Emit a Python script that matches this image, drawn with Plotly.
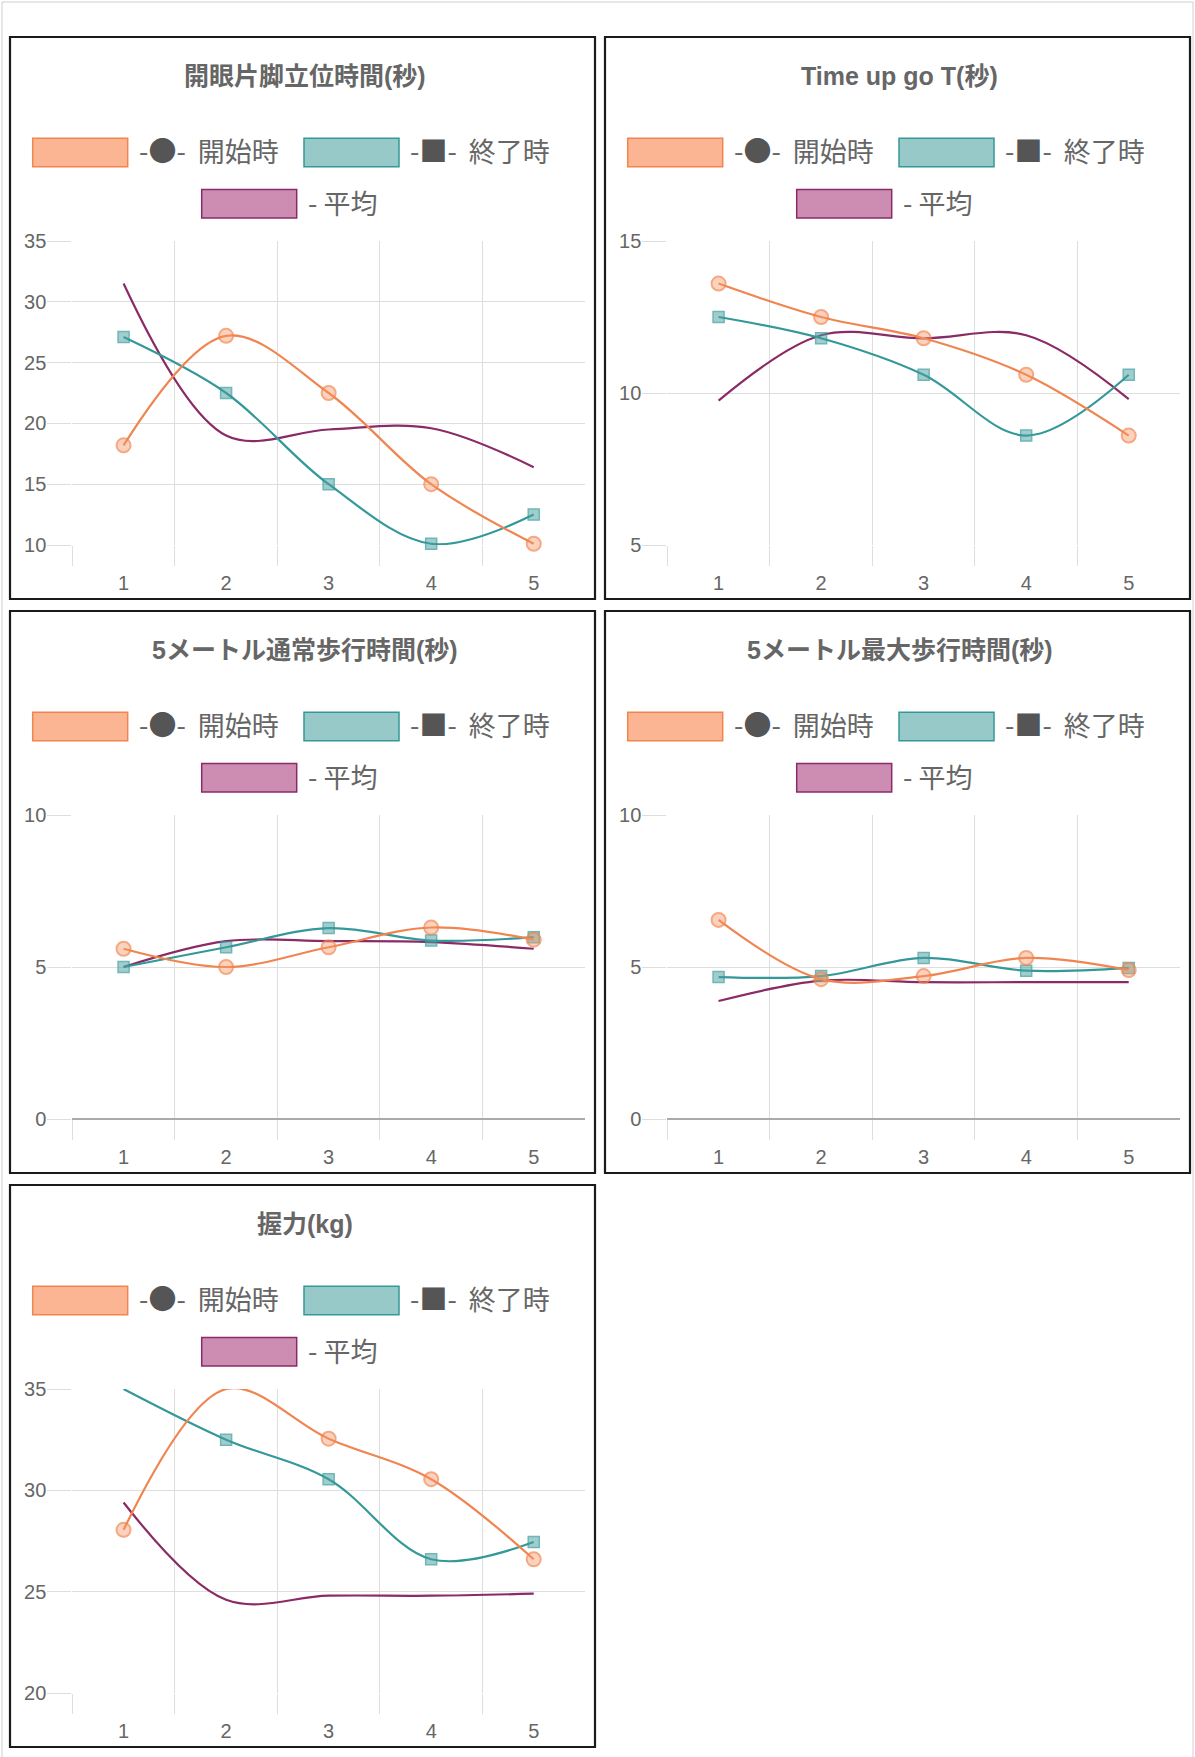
import plotly.graph_objects as go

# ---------------- data ----------------
x_labels = [1, 2, 3, 4, 5]
titles = ["開眼片脚立位時間(秒)", "Time up go T(秒)", "5メートル通常歩行時間(秒)",
          "5メートル最大歩行時間(秒)", "握力(kg)"]
series_names = ["開始時", "終了時", "平均"]

start_vals_1 = [18.2, 27.2, 22.5, 15.0, 10.1]
start_vals_2 = [13.6, 12.5, 11.8, 10.6, 8.6]
start_vals_3 = [5.6, 5.0, 5.65, 6.3, 5.9]
start_vals_4 = [6.55, 4.6, 4.7, 5.3, 4.9]
start_vals_5 = [28.05, 35.0, 32.55, 30.55, 26.6]

end_vals_1 = [27.1, 22.5, 15.0, 10.1, 12.5]
end_vals_2 = [12.5, 11.8, 10.6, 8.6, 10.6]
end_vals_3 = [5.0, 5.65, 6.28, 5.87, 5.98]
end_vals_4 = [4.67, 4.7, 5.3, 4.88, 4.97]
end_vals_5 = [35.0, 32.5, 30.55, 26.6, 27.45]

avg_vals_1 = [31.5, 19.0, 19.5, 19.6, 16.4]
avg_vals_2 = [9.75, 11.9, 11.8, 11.9, 9.8]
avg_vals_3 = [5.0, 5.85, 5.85, 5.82, 5.6]
avg_vals_4 = [3.88, 4.55, 4.5, 4.5, 4.5]
avg_vals_5 = [29.4, 24.6, 24.8, 24.8, 24.9]

y_ticks_1 = [10, 15, 20, 25, 30, 35]
y_ticks_2 = [5, 10, 15]
y_ticks_3 = [0, 5, 10]
y_ticks_4 = [0, 5, 10]
y_ticks_5 = [20, 25, 30, 35]

start_all = [start_vals_1, start_vals_2, start_vals_3, start_vals_4, start_vals_5]
end_all = [end_vals_1, end_vals_2, end_vals_3, end_vals_4, end_vals_5]
avg_all = [avg_vals_1, avg_vals_2, avg_vals_3, avg_vals_4, avg_vals_5]
ticks_all = [y_ticks_1, y_ticks_2, y_ticks_3, y_ticks_4, y_ticks_5]

# ---------------- style ----------------
W, H = 1195, 1757
FONT = "Liberation Sans, Helvetica, Arial, Noto Sans CJK JP, sans-serif"
CJK = "Noto Sans CJK JP, Liberation Sans, sans-serif"
ORANGE = "#f08550"
ORANGE_FILL = "rgba(247,150,100,0.6)"
ORANGE_BOX = "#fcb592"
TEAL = "#359898"
TEAL_FILL = "rgba(75,160,160,0.75)"
TEAL_BOX = "#98c9c9"
PURPLE = "#8a2a66"
PURPLE_BOX = "#cd8db3"
GRID = "#dedede"
TEXT = "#666666"
SYM = "#555555"


def px(x):
    return x / W


def py(y):
    return 1 - y / H


panel_left = [10, 605, 10, 605, 10]
panel_top = [37, 37, 611, 611, 1185]
PW, PH = 585, 562

fig = go.Figure()
shapes = []
annotations = []

# outer light frame
shapes.append(dict(type="rect", xref="paper", yref="paper",
                   x0=px(2), x1=px(1193), y0=py(2), y1=py(1770),
                   line=dict(color="#cfcfcf", width=1), layer="below"))


def sym(ch):
    return "<span style='font-size:28px;color:%s'>%s</span>" % (SYM, ch)


for i in range(5):
    L, T = panel_left[i], panel_top[i]
    sfx = "" if i == 0 else str(i + 1)
    xa, ya = "x" + sfx, "y" + sfx
    ticks = ticks_all[i]
    ymin, ymax = ticks[0], ticks[-1]

    # traces (purple bottom, teal, orange top)
    fig.add_trace(go.Scatter(x=x_labels, y=avg_all[i], mode="lines", name=series_names[2],
                             line=dict(color=PURPLE, width=2.2, shape="spline", smoothing=1.0),
                             xaxis=xa, yaxis=ya, showlegend=False))
    sizes_end = [0 if v >= ymax else 11 for v in end_all[i]]
    fig.add_trace(go.Scatter(x=x_labels, y=end_all[i], mode="lines+markers", name=series_names[1],
                             line=dict(color=TEAL, width=2.2, shape="spline", smoothing=1.0),
                             marker=dict(symbol="square", size=sizes_end, color=TEAL_FILL,
                                         line=dict(color=TEAL, width=1.5)),
                             cliponaxis=False,
                             xaxis=xa, yaxis=ya, showlegend=False))
    sizes_start = [0 if v >= ymax else 14 for v in start_all[i]]
    fig.add_trace(go.Scatter(x=x_labels, y=start_all[i], mode="lines+markers", name=series_names[0],
                             line=dict(color=ORANGE, width=2.2, shape="spline", smoothing=1.0),
                             marker=dict(symbol="circle", size=sizes_start, color=ORANGE_FILL,
                                         line=dict(color=ORANGE, width=2)),
                             cliponaxis=False,
                             xaxis=xa, yaxis=ya, showlegend=False))

    xdom = [px(L + 62.3), px(L + 575)]
    ydom = [py(T + 508), py(T + 204)]
    has_zero = ymin == 0
    fig.update_layout(**{
        "xaxis" + sfx: dict(
            domain=xdom, anchor=ya, range=[0.5, 5.5], automargin=False,
            tickmode="array", tickvals=x_labels, ticktext=[str(v) for v in x_labels],
            showgrid=False, zeroline=False, showline=False, ticks="",
            ticklabelstandoff=24,
            tickfont=dict(family=FONT, size=20, color=TEXT),
            minor=dict(tickmode="array", tickvals=[v - 0.5 for v in x_labels],
                       showgrid=True, gridcolor=GRID, gridwidth=1,
                       ticks="outside", ticklen=20, tickcolor=GRID, tickwidth=1),
            fixedrange=True),
        "yaxis" + sfx: dict(
            domain=ydom, anchor=xa, range=[ymin, ymax], automargin=False,
            tickmode="array", tickvals=ticks, ticktext=[str(v) for v in ticks],
            showgrid=False, showline=False,
            ticks="outside", ticklen=24, tickcolor=GRID, tickwidth=1,
            zeroline=has_zero, zerolinecolor="#aaaaaa", zerolinewidth=1.5,
            ticklabelstandoff=-3,
            tickfont=dict(family=FONT, size=20, color=TEXT),
            minor=dict(tickmode="array", tickvals=ticks[:-1],
                       showgrid=True, gridcolor=GRID, gridwidth=1),
            fixedrange=True),
    })

    # panel frame
    shapes.append(dict(type="rect", xref="paper", yref="paper",
                       x0=px(L), x1=px(L + PW), y0=py(T), y1=py(T + PH),
                       line=dict(color="#1a1a1a", width=2.2)))
    # title
    annotations.append(dict(xref="paper", yref="paper", x=px(L + 294.5), y=py(T + 39),
                            text="<b>" + titles[i] + "</b>", showarrow=False,
                            xanchor="center", yanchor="middle",
                            font=dict(family=FONT, size=25, color=TEXT)))
    # legend boxes
    legend_items = [
        (L + 22.7, T + 115.5, -2.5, ORANGE_BOX, ORANGE, "-" + sym("●") + "-\u00a0 " + series_names[0]),
        (L + 294.0, T + 115.5, -2.5, TEAL_BOX, TEAL, "-" + sym("■") + "-\u00a0 " + series_names[1]),
        (L + 191.7, T + 166.8, -1.0, PURPLE_BOX, PURPLE, "- " + series_names[2]),
    ]
    for bx, cy, dy, fill, edge, label in legend_items:
        shapes.append(dict(type="rect", xref="paper", yref="paper",
                           x0=px(bx), x1=px(bx + 95), y0=py(cy - 14.2), y1=py(cy + 14.2),
                           fillcolor=fill, line=dict(color=edge, width=1.5)))
        annotations.append(dict(xref="paper", yref="paper", x=px(bx + 104), y=py(cy + dy),
                                text=label, showarrow=False, xanchor="left", yanchor="middle",
                                font=dict(family=CJK, size=27, color=TEXT)))

fig.update_layout(
    width=W, height=H, margin=dict(l=0, r=0, t=0, b=0, pad=0, autoexpand=False),
    paper_bgcolor="white", plot_bgcolor="white",
    shapes=shapes, annotations=annotations, showlegend=False,
    font=dict(family=FONT, color=TEXT),
)

fig.write_html("out.html", config={"displayModeBar": False},
               post_script="document.body.style.margin='0';document.body.style.overflow='hidden';")
